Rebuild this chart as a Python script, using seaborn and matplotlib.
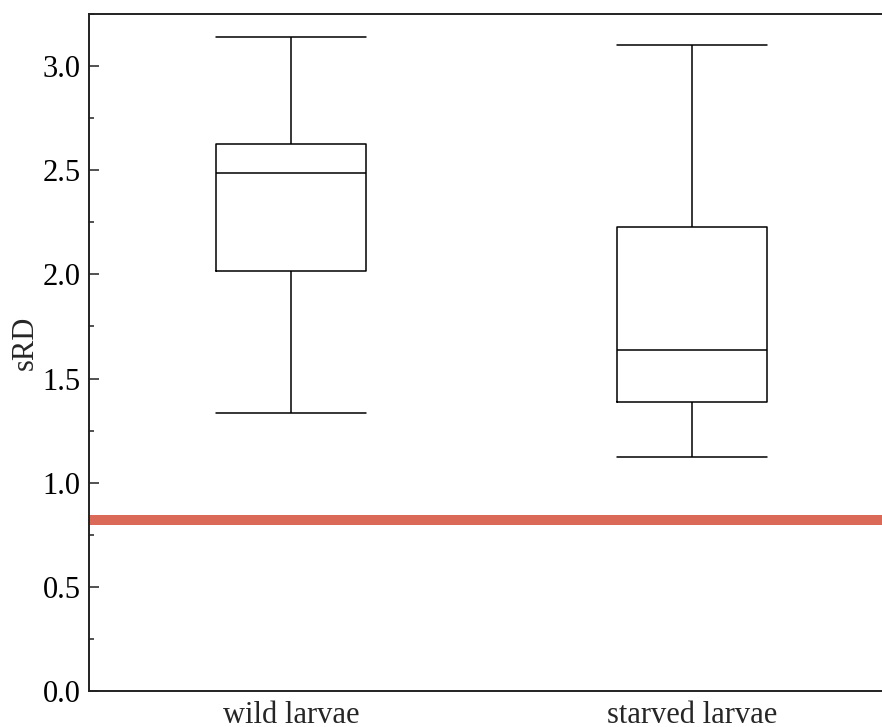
import numpy as np
import pandas as pd
import matplotlib
matplotlib.use("Agg")
import matplotlib.pyplot as plt
from matplotlib.ticker import MultipleLocator, FormatStrFormatter
import seaborn as sns

# Five-number summaries (whisker low, Q1, median, Q3, whisker high)
groups = ["wild larvae", "starved larvae"]
wild_summary = [1.337, 2.014, 2.489, 2.624, 3.141]
starved_summary = [1.125, 1.389, 1.635, 2.226, 3.101]
reference_level = 0.82
y_label = "sRD"

df = pd.DataFrame({
    "group": [groups[0]] * len(wild_summary) + [groups[1]] * len(starved_summary),
    "sRD": wild_summary + starved_summary,
})

sns.set_style("ticks")
plt.rcParams["font.family"] = ["Liberation Serif", "DejaVu Serif"]
plt.rcParams["font.size"] = 22
plt.rcParams["ytick.direction"] = "in"
plt.rcParams["xtick.direction"] = "in"

fig = plt.figure(figsize=(8.82, 7.27), dpi=100)
ax = fig.add_axes([0.1009, 0.0495, 0.9109, 0.9312])

box_w = 0.372
sns.boxplot(data=df, x="group", y="sRD", order=groups, ax=ax,
            whis=(0, 100), width=box_w, fill=False, color="black",
            linecolor="black", linewidth=1.1, capwidths=box_w,
            showfliers=False)

ax.axhline(reference_level, color="#DA6A57", lw=7.2, zorder=1)

ax.set_xlim(-0.504, 1.5)
ax.set_ylim(0, 3.25)
ax.yaxis.set_major_locator(MultipleLocator(0.5))
ax.yaxis.set_minor_locator(MultipleLocator(0.25))
ax.yaxis.set_major_formatter(FormatStrFormatter("%.1f"))

ax.set_xlabel("")
ax.set_ylabel(y_label, fontsize=22)
ax.yaxis.set_label_coords(-0.061, 0.514)

ax.tick_params(axis="y", which="major", direction="in", length=7.2, width=1.1,
               labelsize=22, pad=6, colors="#222222", labelcolor="black")
ax.tick_params(axis="y", which="minor", direction="in", length=3.6, width=1.1,
               colors="#222222")
ax.tick_params(axis="x", which="both", length=0, labelsize=22, pad=7)

for side in ["left", "bottom", "top", "right"]:
    ax.spines[side].set_visible(True)
    ax.spines[side].set_linewidth(1.4)
    ax.spines[side].set_color("#222222")
    ax.spines[side].set_zorder(5)

fig.savefig("out.png", dpi=100)
